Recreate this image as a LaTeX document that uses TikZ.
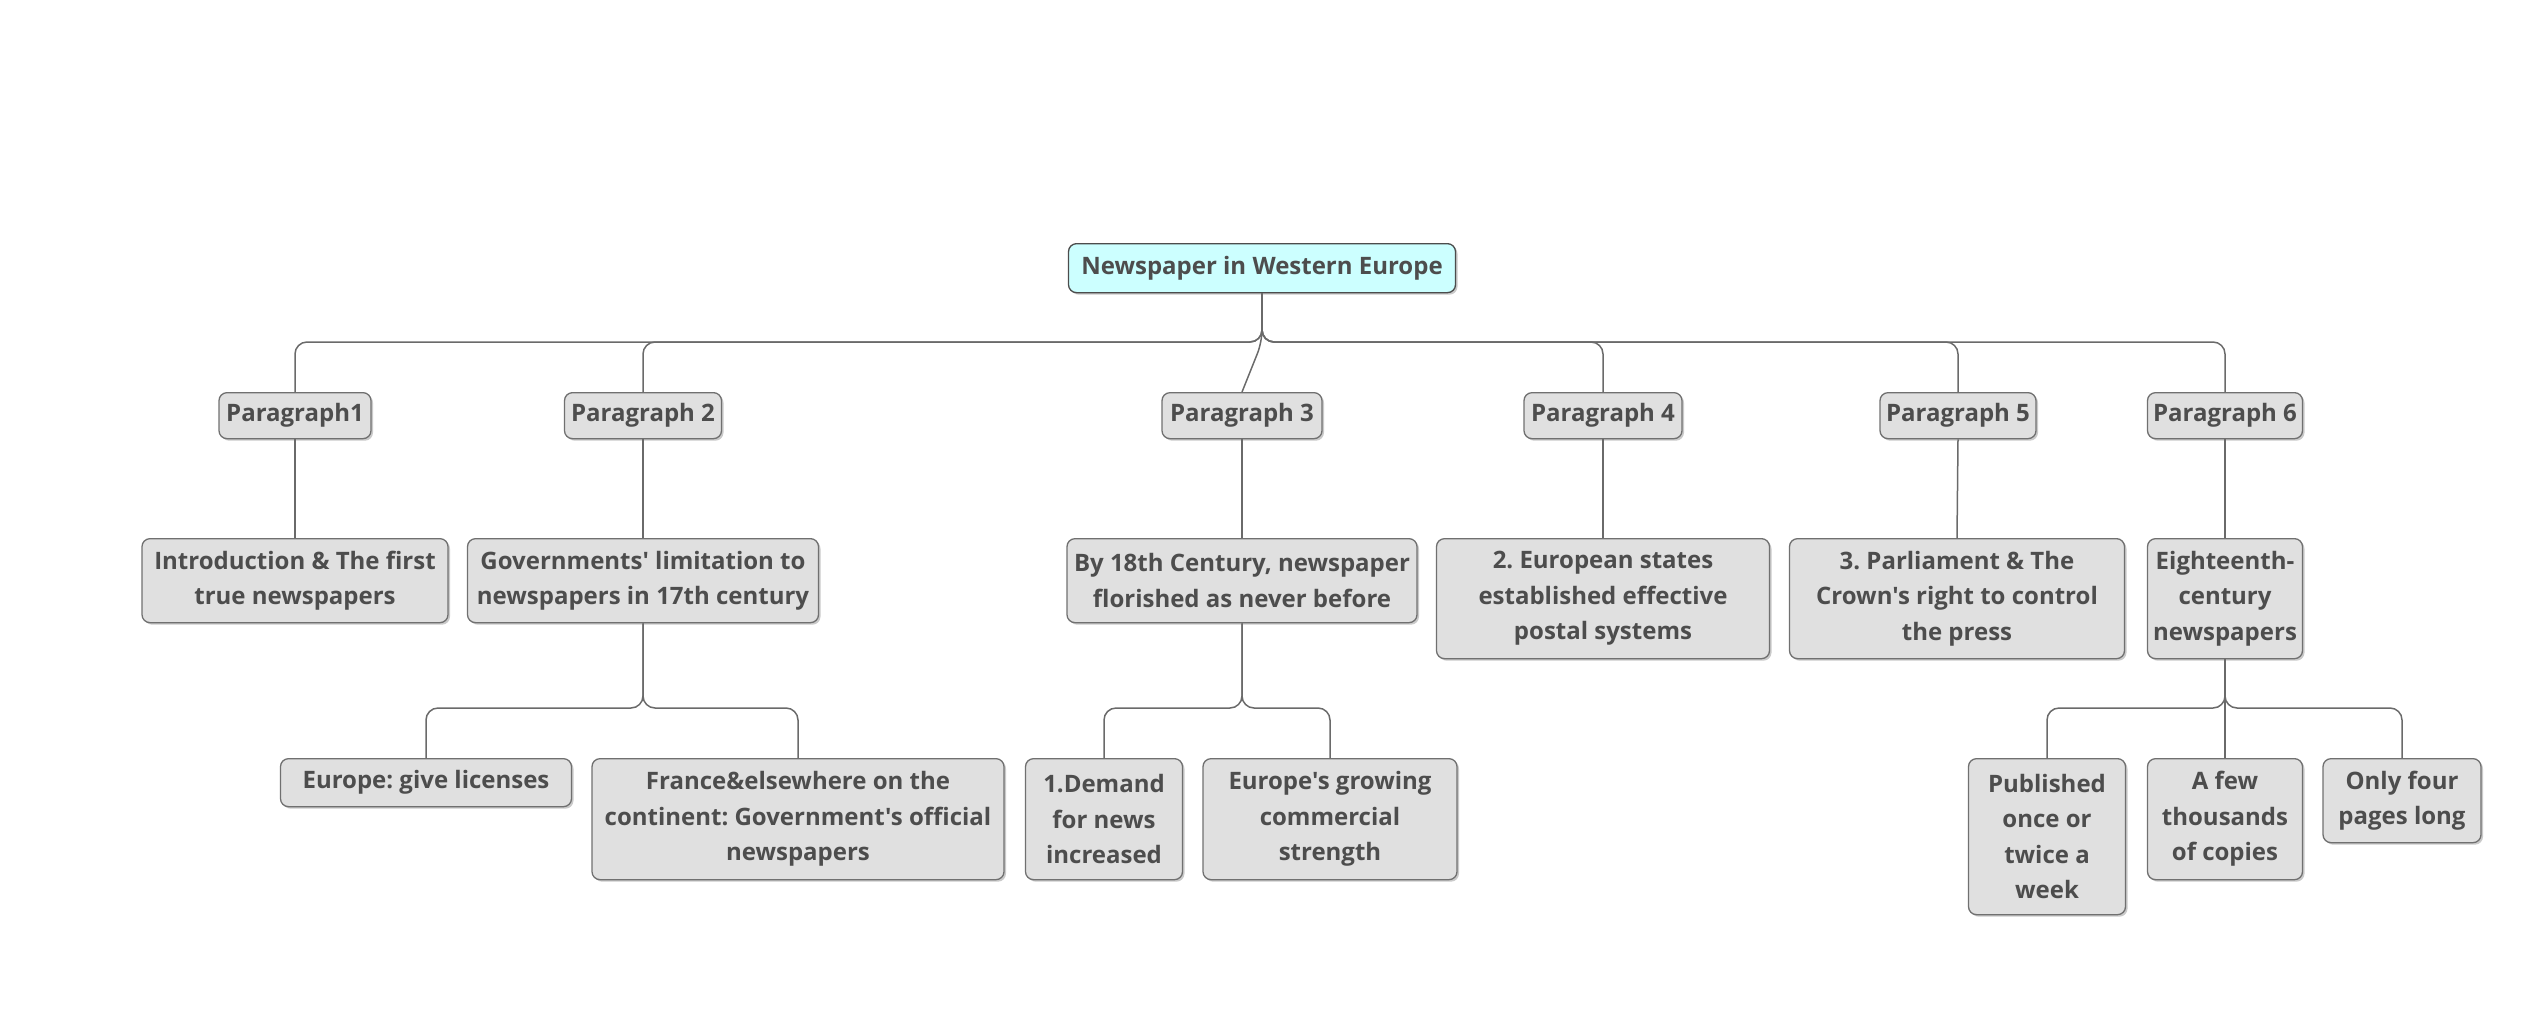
\documentclass[tikz,border=0pt]{standalone}
\usepackage{fontspec}
\setmainfont{Open Sans}[Ligatures=TeXOff]
\usetikzlibrary{shadows}
\definecolor{boxfill}{HTML}{E0E0E0}
\definecolor{rootfill}{HTML}{CCFFFF}
\definecolor{boxline}{HTML}{707070}
\definecolor{txt}{HTML}{4D4D4D}
\definecolor{wirecol}{HTML}{6A6A6A}
\frenchspacing

\begin{document}
\begin{tikzpicture}[x=1pt,y=-1pt,
  topic/.style={draw=boxline, line width=1.3pt, fill=boxfill, rounded corners=8pt,
    text=txt, font=\bfseries\fontsize{24}{35.5}\selectfont, align=center, inner sep=0pt,
    anchor=north, drop shadow={shadow xshift=2pt, shadow yshift=-2pt, opacity=0.35, fill=black!60}},
  root/.style={topic, fill=rootfill, draw=black!70},
  wire/.style={draw=wirecol, line width=1.5pt, rounded corners=12pt}]
  \useasboundingbox (0,0) rectangle (2528,1021);

  % main topic
  \node[root, minimum width=387pt, minimum height=49pt] (root) at (1262,243) {Newspaper in Western Europe};

  % paragraphs
  \node[topic, minimum width=152pt, minimum height=46pt] (p1) at (295,392) {Paragraph1};
  \node[topic, minimum width=157pt, minimum height=46pt] (p2) at (643,392) {Paragraph 2};
  \node[topic, minimum width=160pt, minimum height=46pt] (p3) at (1242,392) {Paragraph 3};
  \node[topic, minimum width=158pt, minimum height=46pt] (p4) at (1603,392) {Paragraph 4};
  \node[topic, minimum width=156pt, minimum height=46pt] (p5) at (1958,392) {Paragraph 5};
  \node[topic, minimum width=155pt, minimum height=46pt] (p6) at (2225,392) {Paragraph 6};

  % second row
  \node[topic, minimum width=306pt, minimum height=84pt] (intro) at (295,538) {Introduction \& The first\\true newspapers};
  \node[topic, minimum width=351pt, minimum height=84pt] (gov) at (643,538) {Governments' limitation to\\newspapers in 17th century};
  \node[topic, minimum width=350pt, minimum height=84pt] (by18) at (1242,538) {By 18th Century, newspaper\\florished as never before};
  \node[topic, minimum width=333pt, minimum height=120pt] (states) at (1603,538) {2. European states\\established effective\\postal systems};
  \node[topic, minimum width=335pt, minimum height=120pt] (parl) at (1957,538) {3. Parliament \& The\\Crown's right to control\\the press};
  \node[topic, minimum width=155pt, minimum height=120pt] (eight) at (2225,538) {Eighteenth-\\century\\newspapers};

  % third row
  \node[topic, minimum width=291pt, minimum height=48pt] (lic) at (426,758) {Europe: give licenses};
  \node[topic, minimum width=412pt, minimum height=121pt] (france) at (798,758) {France\&elsewhere on the\\continent: Government's official\\newspapers};
  \node[topic, minimum width=157pt, minimum height=121pt] (demand) at (1104,758) {1.Demand\\for news\\increased};
  \node[topic, minimum width=254pt, minimum height=121pt] (growing) at (1330,758) {Europe's growing\\commercial\\strength};
  \node[topic, minimum width=157pt, minimum height=156pt] (pub) at (2047,758) {Published\\once or\\twice a\\week};
  \node[topic, minimum width=155pt, minimum height=121pt] (afew) at (2225,758) {A few\\thousands\\of copies};
  \node[topic, minimum width=158pt, minimum height=84pt] (only) at (2402,758) {Only four\\pages long};

  \coordinate (bus) at (0,342);
  \coordinate (fork) at (0,708);

  % root to paragraphs
  \foreach \p in {p1,p2,p4,p5,p6}
    \draw[wire] (root.south) -- (root.south |- bus) -| (\p.north);
  \draw[wire] (root.south) -- (root.south |- bus) -- (p3.north);

  % paragraphs to second row
  \draw[wire] (p1.south) -- (intro.north);
  \draw[wire] (p2.south) -- (gov.north);
  \draw[wire] (p3.south) -- (by18.north);
  \draw[wire] (p4.south) -- (states.north);
  \draw[wire] (p5.south) -- (parl.north);
  \draw[wire] (p6.south) -- (eight.north);

  % second row to third row
  \foreach \a/\b in {gov/lic,gov/france,by18/demand,by18/growing,eight/pub,eight/only}
    \draw[wire] (\a.south) -- (\a.south |- fork) -| (\b.north);
  \draw[wire] (eight.south) -- (afew.north);
\end{tikzpicture}
\end{document}
